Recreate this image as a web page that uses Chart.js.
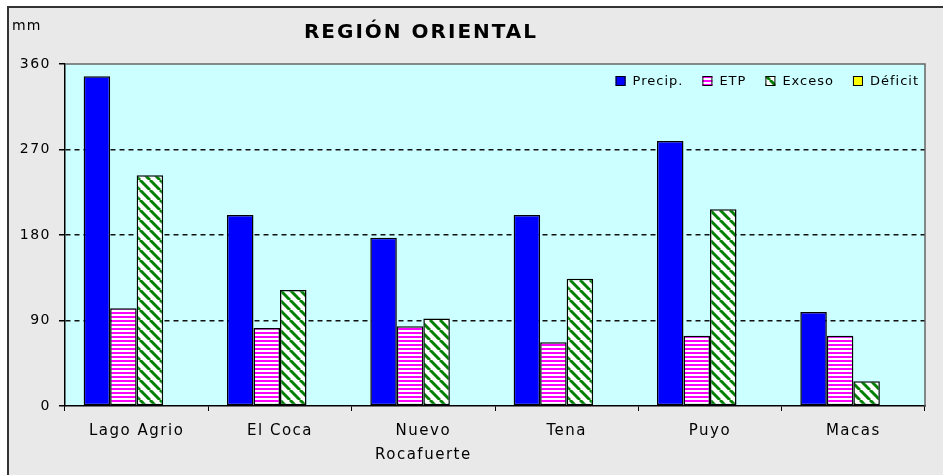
<!DOCTYPE html>
<html>
<head>
<meta charset="utf-8">
<script src="https://cdn.jsdelivr.net/npm/chart.js@4.4.1/dist/chart.umd.min.js"></script>
<style>
  html, body { margin: 0; padding: 0; background: #fff; }
  #box { width: 943px; height: 475px; }
</style>
</head>
<body>
<div id="box"><canvas id="myChart" width="943" height="475"></canvas></div>
<script>
const categories = ['Lago Agrio', 'El Coca', ['Nuevo', 'Rocafuerte'], 'Tena', 'Puyo', 'Macas'];
const precip  = [347, 201, 177, 201, 279, 99];
const etp     = [103, 82, 84, 67, 74, 74];
const exceso  = [243, 122, 92, 134, 207, 26];
const deficit = [0, 0, 0, 0, 0, 0];
const yTicks  = [0, 90, 180, 270, 360];

const FONT = '"DejaVu Sans", "Liberation Sans", sans-serif';

// motifs des barres (rayures)
function stripesH() {
  const c = document.createElement('canvas');
  c.width = 4; c.height = 4;
  const g = c.getContext('2d');
  g.fillStyle = '#ffffff'; g.fillRect(0, 0, 4, 4);
  g.fillStyle = '#ff00ff'; g.fillRect(0, 0, 4, 2);
  return g.createPattern(c, 'repeat');
}

function stripesDiag() {
  const s = 10;
  const c = document.createElement('canvas');
  c.width = s; c.height = s;
  const g = c.getContext('2d');
  g.fillStyle = '#ffffff'; g.fillRect(0, 0, s, s);
  g.strokeStyle = '#008000'; g.lineWidth = 3;
  [-s, 0, s].forEach(x0 => {
    g.beginPath(); g.moveTo(x0, 0); g.lineTo(x0 + s, s); g.stroke();
  });
  return g.createPattern(c, 'repeat');
}

const decor = {
  id: 'decor',
  beforeDraw(chart) {
    const { ctx, chartArea: a } = chart;
    ctx.save();
    ctx.fillStyle = '#ffffff';
    ctx.fillRect(0, 0, chart.width, chart.height);
    ctx.fillStyle = '#e9e9e9';
    ctx.fillRect(8, 7, chart.width, chart.height);
    ctx.strokeStyle = '#333';
    ctx.lineWidth = 2;
    ctx.beginPath();
    ctx.moveTo(8, chart.height); ctx.lineTo(8, 7); ctx.lineTo(chart.width, 7);
    ctx.stroke();
    ctx.fillStyle = '#ccffff';
    ctx.fillRect(a.left, a.top, a.right - a.left, a.bottom - a.top);
    ctx.restore();
    // espacement des lettres pour les axes (le canvas est remis à zéro au redimensionnement)
    ctx.letterSpacing = '1.5px';
  },
  afterDatasetsDraw(chart) {
    const { ctx, chartArea: a } = chart;
    ctx.save();
    ctx.strokeStyle = '#666';
    ctx.lineWidth = 1.5;
    ctx.beginPath();
    ctx.moveTo(a.left, a.top); ctx.lineTo(a.right, a.top); ctx.lineTo(a.right, a.bottom);
    ctx.stroke();

    ctx.fillStyle = '#000';
    ctx.textBaseline = 'middle';
    ctx.textAlign = 'center';
    ctx.letterSpacing = '2px';
    ctx.font = 'bold 20px ' + FONT;
    ctx.fillText('REGIÓN ORIENTAL', 421, 33);
    ctx.textAlign = 'left';
    ctx.letterSpacing = '1px';
    ctx.font = '14px ' + FONT;
    ctx.fillText('mm', 12, 26);

    // légende dans la zone du graphique, en haut à droite
    ctx.font = '13px ' + FONT;
    const items = chart.data.datasets.map(d => ({ label: d.label, fill: d.backgroundColor }));
    const box = 10, gapBox = 7, gapItem = 19, y = 81;
    let x = a.right - 6;
    for (let i = items.length - 1; i >= 0; i--) {
      const w = ctx.measureText(items[i].label).width;
      x -= w;
      ctx.fillStyle = '#000';
      ctx.fillText(items[i].label, x, y + 1);
      x -= gapBox + box;
      ctx.fillStyle = items[i].fill;
      ctx.fillRect(x, y - box / 2, box, box);
      ctx.strokeStyle = '#000';
      ctx.lineWidth = 1;
      ctx.strokeRect(x + 0.5, y - box / 2 + 0.5, box - 1, box - 1);
      x -= gapItem;
    }
    ctx.restore();
  }
};

let myChart;

const setup = () => {
  const ctxt = document.getElementById('myChart').getContext('2d');
  const base = { borderColor: '#000', borderWidth: 1.5, borderSkipped: false,
                 categoryPercentage: 0.74, barPercentage: 1 };

  myChart = new Chart(ctxt, {
    type: 'bar',
    data: {
      labels: categories,
      datasets: [
        { ...base, label: 'Precip.', data: precip, backgroundColor: '#0000ff' },
        { ...base, label: 'ETP', data: etp, backgroundColor: stripesH() },
        { ...base, label: 'Exceso', data: exceso, backgroundColor: stripesDiag() },
        { ...base, label: 'Déficit', data: deficit, backgroundColor: '#ffff00' }
      ]
    },
    options: {
      responsive: false,
      animation: false,
      layout: { padding: { left: 10, right: 18, top: 64, bottom: 0 } },
      plugins: {
        legend: { display: false },
        title: { display: false },
        tooltip: { enabled: false }
      },
      scales: {
        x: {
          afterFit: s => { s.height = 69; },
          grid: { display: true, drawOnChartArea: false, drawTicks: true, tickLength: 5,
                  color: '#000', offset: true },
          border: { display: true, color: '#000', width: 1.5 },
          ticks: { color: '#000', padding: 8, maxRotation: 0,
                   font: { family: FONT, size: 15, lineHeight: 1.6 } }
        },
        y: {
          min: 0,
          max: 360,
          afterFit: s => { s.width = 55; },
          afterBuildTicks: s => { s.ticks = yTicks.map(v => ({ value: v })); },
          grid: {
            color: ctx => (ctx.tick && (ctx.tick.value === 0 || ctx.tick.value === 360)) ? 'rgba(0,0,0,0)' : '#111',
            tickColor: '#000',
            tickLength: 6,
            lineWidth: 1.5
          },
          border: { display: true, color: '#000', width: 1.5, dash: [5, 4] },
          ticks: { color: '#000', padding: 8, font: { family: FONT, size: 14 } }
        }
      }
    },
    plugins: [decor]
  });
};

window.addEventListener('DOMContentLoaded', setup);
</script>
</body>
</html>
